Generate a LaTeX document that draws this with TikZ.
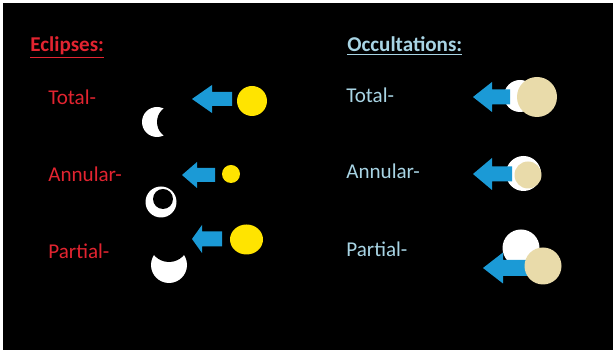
\documentclass[tikz,border=0pt]{standalone}
\usepackage{fontspec}
\setmainfont{Carlito}
\definecolor{ecred}{RGB}{226,36,48}
\definecolor{occblue}{RGB}{168,212,228}
\definecolor{arrowblue}{RGB}{27,154,214}
\definecolor{sunyellow}{RGB}{255,228,0}
\definecolor{planetbeige}{RGB}{233,219,170}
\newcommand{\blockarrow}[6]{% tip x, tip y, head length, head half-height, body end x, body half-height
  \fill[arrowblue] (#1,#2) -- ++(#3,-#4) -- ++(0,#4-#6) -- (#5,#2-#6) -- (#5,#2+#6) -- (#1+#3,#2+#6) -- (#1+#3,#2+#4) -- cycle;}
\begin{document}
\begin{tikzpicture}[x=0.02cm,y=-0.02cm,
  heading/.style={font=\bfseries\fontsize{12}{14}\selectfont, anchor=base west, inner sep=0pt},
  label/.style={font=\fontsize{12}{14}\selectfont, anchor=base west, inner sep=0pt},
  eclabel/.style={label, text=ecred},
  occlabel/.style={label, text=occblue}]
\useasboundingbox (0,0) rectangle (613,350);
\fill[white] (0,0) rectangle (613,350);
\fill[black] (3,3) rectangle (613,350);

% headings
\node[heading, text=ecred] (ecl) at (30,52) {\underline{Eclipses:}};
\node[heading, text=occblue] (occ) at (347,52) {\underline{Occultations:}};

% eclipse labels
\node[eclabel] (ectotal) at (48,105) {Total-};
\node[eclabel] (ecannular) at (48,182) {Annular-};
\node[eclabel] (ecpartial) at (48,259) {Partial-};

% occultation labels
\node[occlabel] (octotal) at (346,103) {Total-};
\node[occlabel] (ocannular) at (346,179) {Annular-};
\node[occlabel] (ocpartial) at (346,257) {Partial-};

% total eclipse: crescent moon = white disc minus a black disc
\fill[sunyellow] (252,101) circle (15);
\blockarrow{192}{99}{20}{14}{232}{7}
\fill[white] (157,122) circle (15);
\fill[black] (174,122) circle (17);

% annular eclipse
\fill[sunyellow] (231,174) circle (9);
\blockarrow{182}{175}{15}{13}{215}{7}
\fill[white] (161,202) circle (15.5);
\fill[black] (163,199) circle (10);

% partial eclipse
\fill[sunyellow] (246.5,239.5) circle [x radius=16.5, y radius=15];
\blockarrow{192}{239}{10}{14}{222}{7.5}
\fill[white] (169,265) circle (18);
\fill[black] (169,242.4) circle (19.6);

% total occultation
\fill[white] (520,96) circle (16);
\fill[planetbeige] (537,97) circle (20);
\blockarrow{473}{97}{19}{15}{510}{7.5}

% annular occultation
\fill[white] (523.5,173.5) circle (17.5);
\fill[planetbeige] (528,175) circle (13.5);
\blockarrow{473}{174}{19}{16}{512}{7.5}

% partial occultation
\fill[white] (521,248) circle (18.5);
\blockarrow{483}{268}{20}{15.5}{530}{8}
\fill[planetbeige] (543,266) circle (18.5);
\end{tikzpicture}
\end{document}
